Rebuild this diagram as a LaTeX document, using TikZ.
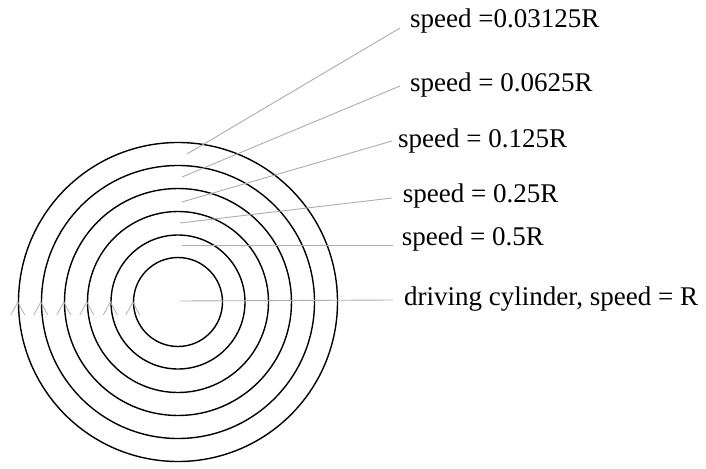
\documentclass[tikz,border=0pt]{standalone}
\usepackage{fontspec}
\setmainfont{Liberation Serif}
\begin{document}
\begin{tikzpicture}[x=1pt,y=-1pt,
  ring/.style={draw=black,line width=1.4pt,circle,inner sep=0pt,minimum size=#1},
  leader/.style={draw=black!32,line width=0.9pt},
  chev/.style={draw=black!30,line width=0.8pt},
  lab/.style={anchor=base west,inner sep=0pt,font=\fontsize{27}{30}\selectfont}]
\useasboundingbox[fill=white] (0,0) rectangle (706,468);
\coordinate (o) at (178,302);
\foreach \d [count=\i] in {89,134,181,227,273,319}{
  \node[ring=\d pt] (c\i) at (o) {};
  \draw[chev] ([shift={(-7,13)}]c\i.west) -- (c\i.west) -- ([shift={(7,13)}]c\i.west);
}
% labels
\node[lab] (l1) at (410,28) {speed =0.03125R};
\node[lab] (l2) at (410,92) {speed = 0.0625R};
\node[lab] (l3) at (398,147) {speed = 0.125R};
\node[lab] (l4) at (402.7,202) {speed = 0.25R};
\node[lab] (l5) at (401.7,245) {speed = 0.5R};
\node[lab] (l6) at (404,305) {driving cylinder, speed = R};
% leader end points
\coordinate (s1) at (187,154); \coordinate (e1) at (400,28);
\coordinate (s2) at (182,177); \coordinate (e2) at (400,86);
\coordinate (s3) at (182,202); \coordinate (e3) at (392,141);
\coordinate (s4) at (180,223); \coordinate (e4) at (392,198);
\coordinate (s5) at (182,245); \coordinate (e5) at (393,245);
\coordinate (s6) at (180,301); \coordinate (e6) at (393,300);
\foreach \i in {1,...,6}{ \draw[leader] (s\i) -- (e\i); }
\end{tikzpicture}
\end{document}
